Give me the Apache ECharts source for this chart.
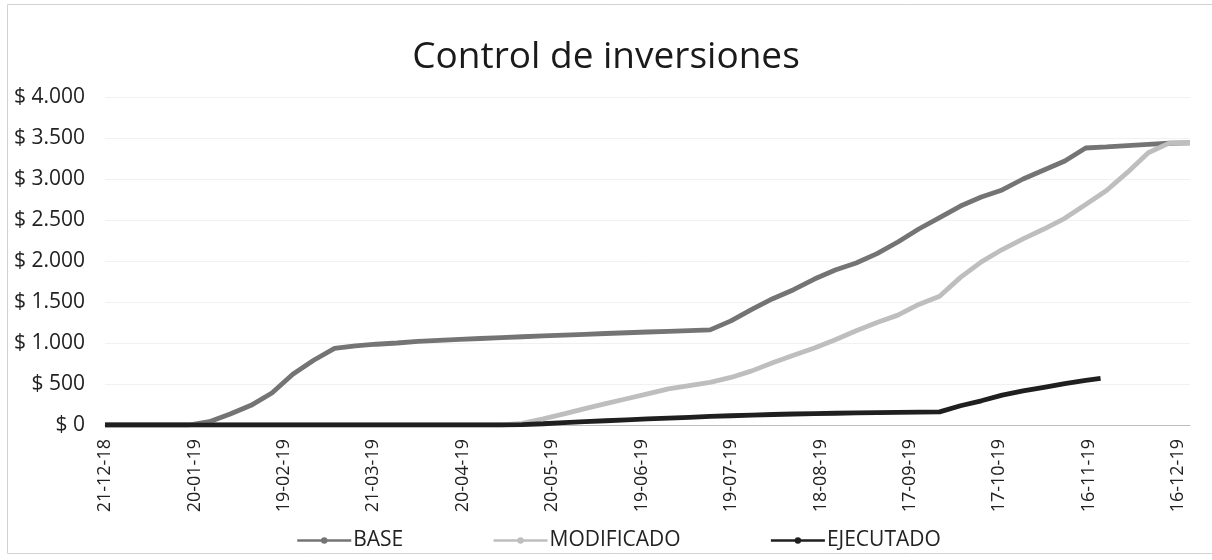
<!DOCTYPE html>
<html>
<head>
<meta charset="utf-8">
<script src="https://cdn.jsdelivr.net/npm/echarts@6/dist/echarts.min.js"></script>
<style>
  html, body { margin: 0; padding: 0; background: #ffffff; }
  #chart { width: 1212px; height: 560px; }
</style>
</head>
<body>
<div id="chart"></div>
<script>
// Days elapsed since 21-12-18 (weekly readings)
const days = [0,7,14,21,28,35,42,49,56,63,70,77,84,91,98,105,112,119,126,133,140,147,154,161,168,175,182,189,196,203,210,217,224,231,238,245,252,259,266,273,280,287,294,301,308,315,322,329,336,343,350,357,364];

const baseValues = [0,0,0,0,0,40,135,240,390,620,790,935,965,985,1000,1020,1032,1044,1055,1066,1076,1086,1096,1106,1116,1125,1134,1143,1152,1160,1270,1410,1540,1650,1780,1890,1975,2090,2232,2390,2530,2670,2780,2866,3000,3110,3220,3378,3392,3408,3422,3436,3440];

const modificadoValues = [0,0,0,0,0,0,0,0,0,0,0,0,0,0,0,0,0,0,0,0,20,75,135,200,260,320,380,440,480,520,580,660,760,850,940,1040,1150,1250,1340,1470,1570,1800,1990,2140,2270,2390,2520,2690,2860,3080,3320,3438,3440];

const ejecutadoDays = [0,7,14,21,28,35,42,49,56,63,70,77,84,91,98,105,112,119,126,133,140,147,154,161,168,175,182,189,196,203,210,217,224,231,238,245,252,259,266,273,280,287,294,301,308,315,322,329,334];
const ejecutadoValues = [0,0,0,0,0,0,0,0,0,0,0,0,0,0,0,0,0,0,0,0,5,15,28,40,52,63,74,84,94,104,113,121,128,134,139,143,147,151,154,157,160,235,295,365,415,460,505,545,570];

const xTickLabels = ['21-12-18','20-01-19','19-02-19','21-03-19','20-04-19','20-05-19','19-06-19','19-07-19','18-08-19','17-09-19','17-10-19','16-11-19','16-12-19'];

const seriesNames = ['BASE', 'MODIFICADO', 'EJECUTADO'];

function pairs(xs, ys) { return xs.map((d, i) => [d, ys[i]]); }

const FONT = '"Open Sans", Lato, sans-serif';

const chart = echarts.init(document.getElementById('chart'), null, { renderer: 'canvas' });
chart.setOption({
  animation: false,
  backgroundColor: '#ffffff',
  title: {
    text: 'Control de inversiones',
    left: 'center',
    top: 34,
    textStyle: { fontFamily: FONT, fontSize: 37, fontWeight: 'normal', color: '#1a1a1a' }
  },
  graphic: [{
    type: 'rect',
    shape: { x: 7.5, y: 4.5, width: 1210, height: 549 },
    style: { fill: 'none', stroke: '#d2d2d2', lineWidth: 1 },
    silent: true
  }],
  legend: {
    data: seriesNames,
    left: 291,
    top: 525,
    itemGap: 89,
    itemWidth: 54,
    itemHeight: 8,
    lineStyle: { width: 2.5 },
    textStyle: { fontFamily: FONT, fontSize: 21, color: '#222', padding: [0, 0, 0, -3] }
  },
  grid: { left: 105, right: 22, top: 97, bottom: 135, containLabel: false },
  xAxis: {
    type: 'value',
    min: 0,
    max: 364,
    interval: 30,
    axisLine: { show: true, lineStyle: { color: '#bdbdbd', width: 1 } },
    axisTick: { show: false },
    splitLine: { show: false },
    axisLabel: {
      rotate: 90,
      margin: 14,
      fontFamily: FONT,
      fontSize: 18,
      color: '#222',
      showMaxLabel: false,
      formatter: function (v) {
        if (v % 30 !== 0) return '';
        return xTickLabels[v / 30] || '';
      }
    }
  },
  yAxis: {
    type: 'value',
    min: 0,
    max: 4000,
    interval: 500,
    axisLine: { show: false },
    axisTick: { show: false },
    splitLine: { show: true, lineStyle: { color: '#f1f1f1', width: 1 } },
    axisLabel: {
      margin: 20,
      fontFamily: FONT,
      fontSize: 21,
      color: '#222',
      formatter: function (v) {
        return '$ ' + String(v).replace(/\B(?=(\d{3})+(?!\d))/g, '.');
      }
    }
  },
  series: [
    {
      name: 'BASE', type: 'line', data: pairs(days, baseValues),
      showSymbol: false, symbol: 'circle', symbolSize: 6,
      lineStyle: { color: '#747474', width: 4.8 },
      itemStyle: { color: '#747474' }, z: 2
    },
    {
      name: 'MODIFICADO', type: 'line', data: pairs(days, modificadoValues),
      showSymbol: false, symbol: 'circle', symbolSize: 6,
      lineStyle: { color: '#bebebe', width: 4.8 },
      itemStyle: { color: '#bebebe' }, z: 3
    },
    {
      name: 'EJECUTADO', type: 'line', data: pairs(ejecutadoDays, ejecutadoValues),
      showSymbol: false, symbol: 'circle', symbolSize: 6,
      lineStyle: { color: '#1f1f1f', width: 4.8 },
      itemStyle: { color: '#1f1f1f' }, z: 4
    }
  ]
});
</script>
</body>
</html>
